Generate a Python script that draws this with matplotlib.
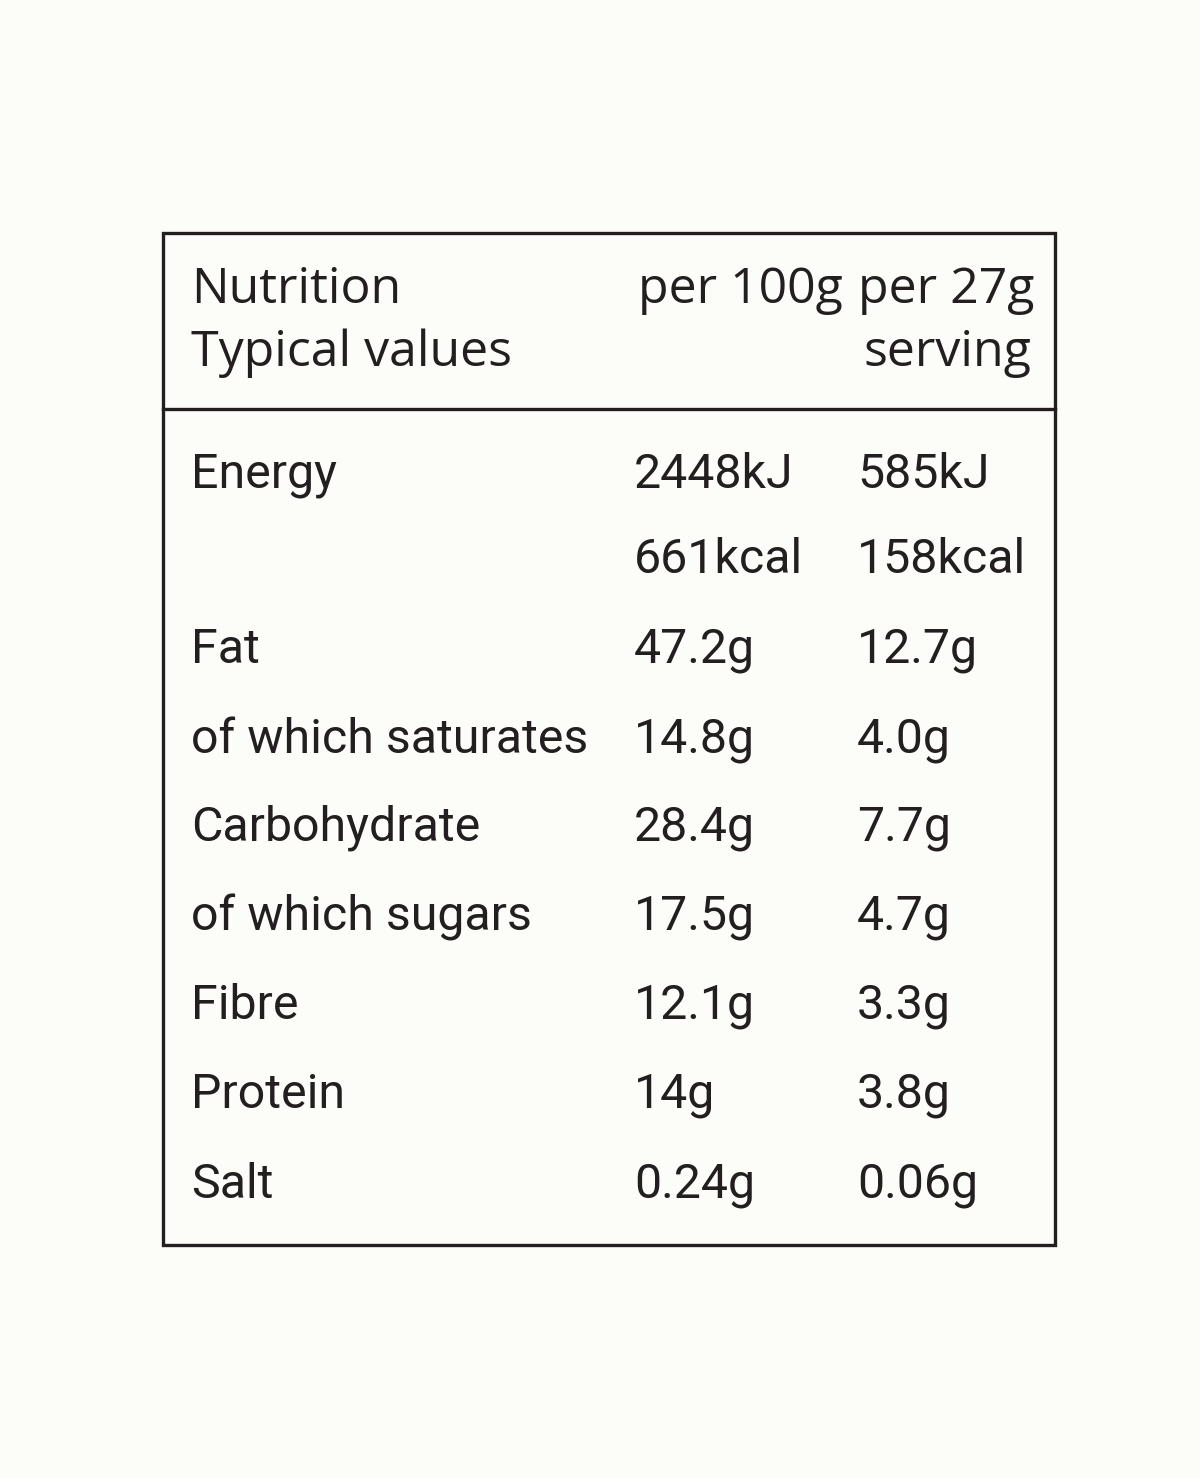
import matplotlib
matplotlib.use("Agg")
import matplotlib.pyplot as plt

W, H = 1200, 1478
BG = "#fcfcf8"
INK = "#231f20"

header_left = ["Nutrition", "Typical values"]
header_col1 = "per 100g"
header_col2 = ["per 27g", "serving"]

nutrients = ["Energy", "", "Fat", "of which saturates", "Carbohydrate",
             "of which sugars", "Fibre", "Protein", "Salt"]
per_100g = ["2448kJ", "661kcal", "47.2g", "14.8g", "28.4g", "17.5g", "12.1g", "14g", "0.24g"]
per_serving = ["585kJ", "158kcal", "12.7g", "4.0g", "7.7g", "4.7g", "3.3g", "3.8g", "0.06g"]

fig = plt.figure(figsize=(W / 100, H / 100), dpi=100, facecolor=BG)
ax = fig.add_axes([0, 0, 1, 1])
ax.set_xlim(0, W); ax.set_ylim(H, 0); ax.axis("off")

# frame and header divider
ax.add_patch(plt.Rectangle((163, 233), 892, 1012, fill=False, ec=INK, lw=2.4))
ax.plot([163, 1055], [409, 409], color=INK, lw=2.4)

hkw = dict(family="Open Sans", fontsize=36, color=INK, va="center")
ax.text(191, 290, header_left[0], **hkw)
ax.text(191, 353, header_left[1], **hkw)
ax.text(638, 290, header_col1, **hkw)
ax.text(858, 290, header_col2[0], **hkw)
ax.text(1031, 353, header_col2[1], ha="right", **hkw)

# body font: fit the longest label to the reference width (191 -> 588 px)
renderer = fig.canvas.get_renderer()
probe = ax.text(0, 0, "of which saturates", family="Roboto", fontsize=40)
w = probe.get_window_extent(renderer).width
probe.remove()
fs = 40 * 397 / w

ys = [475, 560, 650, 740, 828, 917, 1006, 1095, 1185]
rkw = dict(family="Roboto", fontsize=fs, color=INK, va="center")
for y, n, a, b in zip(ys, nutrients, per_100g, per_serving):
    ax.text(191, y, n, **rkw)
    ax.text(634, y, a, **rkw)
    ax.text(857, y, b, **rkw)

fig.savefig("out.png", dpi=100, facecolor=BG)
